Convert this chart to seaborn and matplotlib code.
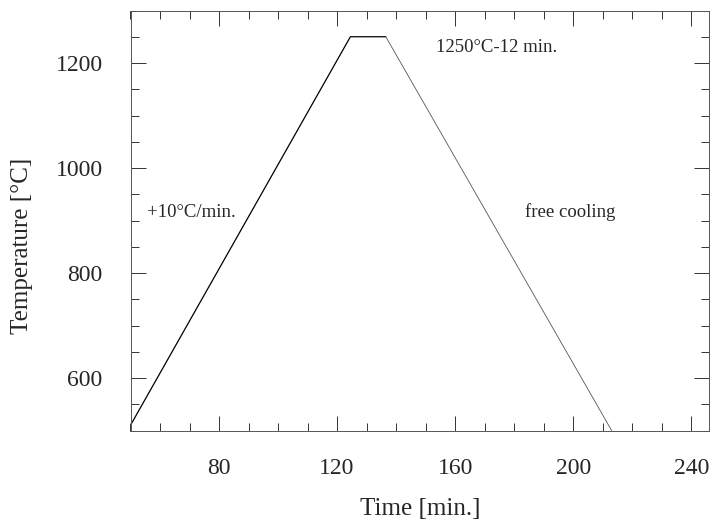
import numpy as np
import pandas as pd
import matplotlib
matplotlib.use('Agg')
import matplotlib.pyplot as plt
import seaborn as sns
from matplotlib.ticker import MultipleLocator

# --- Thermal cycle ---
time_min = [50, 124.5, 136.5, 213]
temp_c = [510, 1250, 1250, 500]

annot_text = ['+10°C/min.', '1250°C-12 min.', 'free cooling']
annot_x = [55.5, 153.5, 183.5]
annot_y = [916, 1230, 916]

df = pd.DataFrame({'Time': time_min, 'Temp': temp_c})
heat = df.iloc[:3]
cool = df.iloc[2:]

sns.set_style('ticks')
plt.rcParams['font.family'] = ['Liberation Serif', 'DejaVu Serif']

fig = plt.figure(figsize=(7.1, 5.21), dpi=100)
ax = fig.add_axes([130.5 / 710, 90.5 / 521, 578.5 / 710, 420 / 521])

sns.lineplot(data=heat, x='Time', y='Temp', sort=False, estimator=None,
             color='black', linewidth=0.9, ax=ax)
sns.lineplot(data=cool, x='Time', y='Temp', sort=False, estimator=None,
             color='#555555', linewidth=0.6, ax=ax)

ax.set_xlim(50, 246)
ax.set_ylim(500, 1300)
ax.xaxis.set_major_locator(MultipleLocator(40))
ax.xaxis.set_minor_locator(MultipleLocator(10))
ax.yaxis.set_major_locator(MultipleLocator(200))
ax.yaxis.set_minor_locator(MultipleLocator(50))

ax.tick_params(which='both', direction='in', top=True, right=True,
               color='#333333', width=0.7)
ax.tick_params(which='major', length=10.8, pad=20, labelsize=17)
ax.tick_params(which='minor', length=5.5)
for s in ax.spines.values():
    s.set_color('#555555')
    s.set_linewidth(0.7)

ax.set_xlabel('Time [min.]', fontsize=18)
ax.set_ylabel('Temperature [°C]', fontsize=18)
ax.yaxis.set_label_coords(-0.168, 0.44)
ax.xaxis.set_label_coords(0.5, -0.16)

for t, x, y in zip(annot_text, annot_x, annot_y):
    ax.text(x, y, t, fontsize=13.5, va='center', ha='left')

fig.savefig('out.png', dpi=100)
